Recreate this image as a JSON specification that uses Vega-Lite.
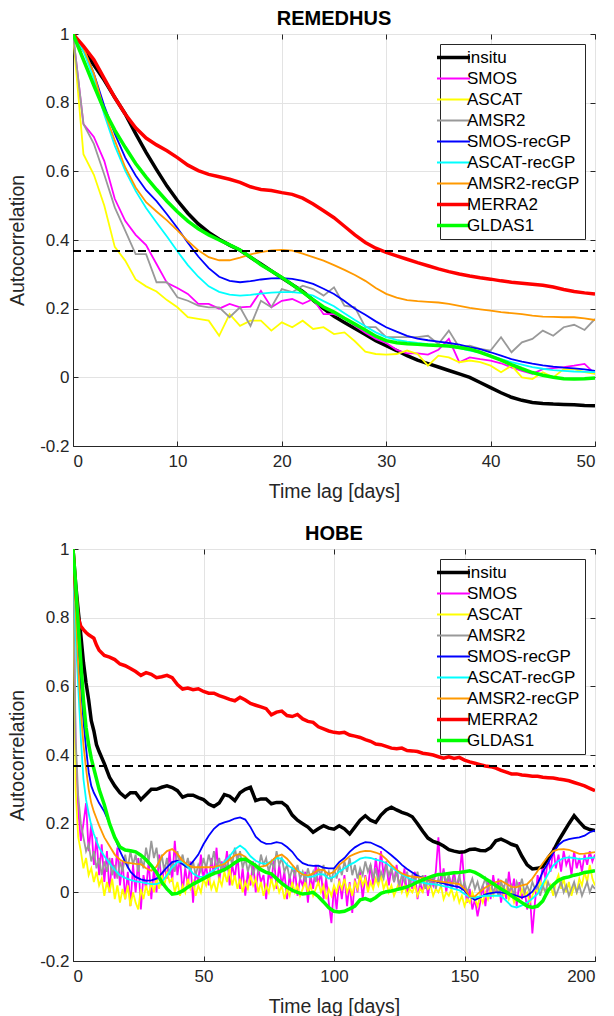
{
"$schema":"https://vega.github.io/schema/vega-lite/v6.json",
"padding":{"left":6,"top":8,"right":0,"bottom":0},
"background":"white",
"bounds":"flush",
"spacing":103,
"config":{
"font":"Liberation Sans",
"view":{"stroke":"#262626","strokeWidth":1},
"axis":{"gridColor":"#e3e3e3","gridWidth":1,"domainColor":"#262626","tickColor":"#262626","labelColor":"#262626","titleColor":"#262626","labelFontSize":17,"titleFontSize":19.5,"titleFontWeight":"normal","labelFont":"Liberation Sans","titleFont":"Liberation Sans"},
"legend":{"title":null,"orient":"top-right","offset":10,"padding":5,"strokeColor":"#262626","fillColor":"#ffffff","labelFontSize":17,"labelColor":"#000000","labelFont":"Liberation Sans","symbolType":"stroke","symbolSize":1089,"rowPadding":3,"labelOffset":5,"symbolStrokeWidth":1.8},
"title":{"font":"Liberation Sans","fontSize":20,"fontWeight":"bold","color":"#000000","offset":-4,"baseline":"alphabetic"}
},
"datasets":{
"rem":[
{"x":0,"insitu":1,"SMOS":1,"ASCAT":1,"AMSR2":1,"SMOS-recGP":1,"ASCAT-recGP":1,"AMSR2-recGP":1,"MERRA2":1,"GLDAS1":1},
{"x":1,"insitu":0.955,"SMOS":0.738,"ASCAT":0.65,"AMSR2":0.738,"SMOS-recGP":0.96,"ASCAT-recGP":0.95,"AMSR2-recGP":0.96,"MERRA2":0.965,"GLDAS1":0.925},
{"x":2,"insitu":0.91,"SMOS":0.7,"ASCAT":0.59,"AMSR2":0.68,"SMOS-recGP":0.885,"ASCAT-recGP":0.87,"AMSR2-recGP":0.885,"MERRA2":0.925,"GLDAS1":0.85},
{"x":3,"insitu":0.865,"SMOS":0.63,"ASCAT":0.5,"AMSR2":0.59,"SMOS-recGP":0.79,"ASCAT-recGP":0.765,"AMSR2-recGP":0.775,"MERRA2":0.87,"GLDAS1":0.778},
{"x":4,"insitu":0.815,"SMOS":0.52,"ASCAT":0.38,"AMSR2":0.495,"SMOS-recGP":0.71,"ASCAT-recGP":0.675,"AMSR2-recGP":0.69,"MERRA2":0.815,"GLDAS1":0.72},
{"x":5,"insitu":0.767,"SMOS":0.456,"ASCAT":0.34,"AMSR2":0.427,"SMOS-recGP":0.64,"ASCAT-recGP":0.602,"AMSR2-recGP":0.612,"MERRA2":0.767,"GLDAS1":0.67},
{"x":6,"insitu":0.71,"SMOS":0.415,"ASCAT":0.285,"AMSR2":0.359,"SMOS-recGP":0.588,"ASCAT-recGP":0.543,"AMSR2-recGP":0.553,"MERRA2":0.727,"GLDAS1":0.623},
{"x":7,"insitu":0.655,"SMOS":0.385,"ASCAT":0.265,"AMSR2":0.359,"SMOS-recGP":0.545,"ASCAT-recGP":0.493,"AMSR2-recGP":0.51,"MERRA2":0.697,"GLDAS1":0.583},
{"x":8,"insitu":0.605,"SMOS":0.33,"ASCAT":0.25,"AMSR2":0.277,"SMOS-recGP":0.513,"ASCAT-recGP":0.451,"AMSR2-recGP":0.483,"MERRA2":0.677,"GLDAS1":0.547},
{"x":9,"insitu":0.557,"SMOS":0.275,"ASCAT":0.225,"AMSR2":0.277,"SMOS-recGP":0.475,"ASCAT-recGP":0.41,"AMSR2-recGP":0.457,"MERRA2":0.66,"GLDAS1":0.513},
{"x":10,"insitu":0.515,"SMOS":0.26,"ASCAT":0.204,"AMSR2":0.233,"SMOS-recGP":0.435,"ASCAT-recGP":0.367,"AMSR2-recGP":0.428,"MERRA2":0.64,"GLDAS1":0.482},
{"x":11,"insitu":0.478,"SMOS":0.243,"ASCAT":0.175,"AMSR2":0.223,"SMOS-recGP":0.392,"ASCAT-recGP":0.327,"AMSR2-recGP":0.397,"MERRA2":0.618,"GLDAS1":0.455},
{"x":12,"insitu":0.447,"SMOS":0.214,"ASCAT":0.17,"AMSR2":0.209,"SMOS-recGP":0.352,"ASCAT-recGP":0.293,"AMSR2-recGP":0.37,"MERRA2":0.602,"GLDAS1":0.433},
{"x":13,"insitu":0.422,"SMOS":0.214,"ASCAT":0.165,"AMSR2":0.204,"SMOS-recGP":0.318,"ASCAT-recGP":0.265,"AMSR2-recGP":0.35,"MERRA2":0.591,"GLDAS1":0.415},
{"x":14,"insitu":0.402,"SMOS":0.2,"ASCAT":0.121,"AMSR2":0.204,"SMOS-recGP":0.293,"ASCAT-recGP":0.249,"AMSR2-recGP":0.341,"MERRA2":0.584,"GLDAS1":0.4},
{"x":15,"insitu":0.385,"SMOS":0.214,"ASCAT":0.184,"AMSR2":0.175,"SMOS-recGP":0.281,"ASCAT-recGP":0.241,"AMSR2-recGP":0.341,"MERRA2":0.577,"GLDAS1":0.386},
{"x":16,"insitu":0.37,"SMOS":0.204,"ASCAT":0.15,"AMSR2":0.204,"SMOS-recGP":0.277,"ASCAT-recGP":0.238,"AMSR2-recGP":0.349,"MERRA2":0.568,"GLDAS1":0.371},
{"x":17,"insitu":0.35,"SMOS":0.206,"ASCAT":0.165,"AMSR2":0.15,"SMOS-recGP":0.28,"ASCAT-recGP":0.24,"AMSR2-recGP":0.358,"MERRA2":0.555,"GLDAS1":0.35},
{"x":18,"insitu":0.33,"SMOS":0.252,"ASCAT":0.165,"AMSR2":0.223,"SMOS-recGP":0.285,"ASCAT-recGP":0.244,"AMSR2-recGP":0.365,"MERRA2":0.547,"GLDAS1":0.328},
{"x":19,"insitu":0.31,"SMOS":0.204,"ASCAT":0.136,"AMSR2":0.204,"SMOS-recGP":0.288,"ASCAT-recGP":0.247,"AMSR2-recGP":0.37,"MERRA2":0.544,"GLDAS1":0.31},
{"x":20,"insitu":0.29,"SMOS":0.223,"ASCAT":0.16,"AMSR2":0.257,"SMOS-recGP":0.289,"ASCAT-recGP":0.248,"AMSR2-recGP":0.371,"MERRA2":0.538,"GLDAS1":0.291},
{"x":21,"insitu":0.27,"SMOS":0.228,"ASCAT":0.146,"AMSR2":0.248,"SMOS-recGP":0.287,"ASCAT-recGP":0.248,"AMSR2-recGP":0.369,"MERRA2":0.533,"GLDAS1":0.27},
{"x":22,"insitu":0.25,"SMOS":0.214,"ASCAT":0.165,"AMSR2":0.267,"SMOS-recGP":0.281,"ASCAT-recGP":0.245,"AMSR2-recGP":0.36,"MERRA2":0.522,"GLDAS1":0.248},
{"x":23,"insitu":0.225,"SMOS":0.228,"ASCAT":0.141,"AMSR2":0.257,"SMOS-recGP":0.272,"ASCAT-recGP":0.238,"AMSR2-recGP":0.35,"MERRA2":0.505,"GLDAS1":0.226},
{"x":24,"insitu":0.2,"SMOS":0.184,"ASCAT":0.146,"AMSR2":0.238,"SMOS-recGP":0.258,"ASCAT-recGP":0.222,"AMSR2-recGP":0.34,"MERRA2":0.485,"GLDAS1":0.205},
{"x":25,"insitu":0.178,"SMOS":0.184,"ASCAT":0.126,"AMSR2":0.262,"SMOS-recGP":0.243,"ASCAT-recGP":0.207,"AMSR2-recGP":0.327,"MERRA2":0.465,"GLDAS1":0.19},
{"x":26,"insitu":0.16,"SMOS":0.172,"ASCAT":0.131,"AMSR2":0.209,"SMOS-recGP":0.222,"ASCAT-recGP":0.187,"AMSR2-recGP":0.313,"MERRA2":0.44,"GLDAS1":0.172},
{"x":27,"insitu":0.142,"SMOS":0.15,"ASCAT":0.105,"AMSR2":0.204,"SMOS-recGP":0.2,"ASCAT-recGP":0.167,"AMSR2-recGP":0.298,"MERRA2":0.415,"GLDAS1":0.155},
{"x":28,"insitu":0.125,"SMOS":0.13,"ASCAT":0.075,"AMSR2":0.146,"SMOS-recGP":0.182,"ASCAT-recGP":0.149,"AMSR2-recGP":0.281,"MERRA2":0.393,"GLDAS1":0.138},
{"x":29,"insitu":0.107,"SMOS":0.112,"ASCAT":0.068,"AMSR2":0.146,"SMOS-recGP":0.163,"ASCAT-recGP":0.131,"AMSR2-recGP":0.26,"MERRA2":0.376,"GLDAS1":0.12},
{"x":30,"insitu":0.092,"SMOS":0.1,"ASCAT":0.066,"AMSR2":0.117,"SMOS-recGP":0.146,"ASCAT-recGP":0.117,"AMSR2-recGP":0.243,"MERRA2":0.364,"GLDAS1":0.107},
{"x":31,"insitu":0.078,"SMOS":0.08,"ASCAT":0.068,"AMSR2":0.117,"SMOS-recGP":0.133,"ASCAT-recGP":0.109,"AMSR2-recGP":0.232,"MERRA2":0.354,"GLDAS1":0.101},
{"x":32,"insitu":0.063,"SMOS":0.07,"ASCAT":0.078,"AMSR2":0.117,"SMOS-recGP":0.121,"ASCAT-recGP":0.104,"AMSR2-recGP":0.225,"MERRA2":0.344,"GLDAS1":0.098},
{"x":33,"insitu":0.05,"SMOS":0.07,"ASCAT":0.068,"AMSR2":0.117,"SMOS-recGP":0.113,"ASCAT-recGP":0.1,"AMSR2-recGP":0.222,"MERRA2":0.334,"GLDAS1":0.096},
{"x":34,"insitu":0.04,"SMOS":0.066,"ASCAT":0.034,"AMSR2":0.121,"SMOS-recGP":0.108,"ASCAT-recGP":0.097,"AMSR2-recGP":0.22,"MERRA2":0.325,"GLDAS1":0.094},
{"x":35,"insitu":0.03,"SMOS":0.08,"ASCAT":0.063,"AMSR2":0.097,"SMOS-recGP":0.104,"ASCAT-recGP":0.094,"AMSR2-recGP":0.218,"MERRA2":0.316,"GLDAS1":0.093},
{"x":36,"insitu":0.02,"SMOS":0.112,"ASCAT":0.058,"AMSR2":0.136,"SMOS-recGP":0.1,"ASCAT-recGP":0.09,"AMSR2-recGP":0.214,"MERRA2":0.308,"GLDAS1":0.091},
{"x":37,"insitu":0.01,"SMOS":0.044,"ASCAT":0.044,"AMSR2":0.087,"SMOS-recGP":0.095,"ASCAT-recGP":0.085,"AMSR2-recGP":0.208,"MERRA2":0.301,"GLDAS1":0.087},
{"x":38,"insitu":0,"SMOS":0.058,"ASCAT":0.049,"AMSR2":0.092,"SMOS-recGP":0.088,"ASCAT-recGP":0.078,"AMSR2-recGP":0.202,"MERRA2":0.295,"GLDAS1":0.082},
{"x":39,"insitu":-0.015,"SMOS":0.053,"ASCAT":0.044,"AMSR2":0.083,"SMOS-recGP":0.082,"ASCAT-recGP":0.072,"AMSR2-recGP":0.198,"MERRA2":0.29,"GLDAS1":0.073},
{"x":40,"insitu":-0.03,"SMOS":0.049,"ASCAT":0.034,"AMSR2":0.078,"SMOS-recGP":0.073,"ASCAT-recGP":0.063,"AMSR2-recGP":0.194,"MERRA2":0.286,"GLDAS1":0.062},
{"x":41,"insitu":-0.045,"SMOS":0.041,"ASCAT":0.015,"AMSR2":0.117,"SMOS-recGP":0.063,"ASCAT-recGP":0.053,"AMSR2-recGP":0.19,"MERRA2":0.281,"GLDAS1":0.05},
{"x":42,"insitu":-0.058,"SMOS":0.029,"ASCAT":0.034,"AMSR2":0.073,"SMOS-recGP":0.053,"ASCAT-recGP":0.044,"AMSR2-recGP":0.187,"MERRA2":0.277,"GLDAS1":0.037},
{"x":43,"insitu":-0.067,"SMOS":0.019,"ASCAT":0,"AMSR2":0.102,"SMOS-recGP":0.046,"ASCAT-recGP":0.037,"AMSR2-recGP":0.184,"MERRA2":0.274,"GLDAS1":0.025},
{"x":44,"insitu":-0.073,"SMOS":0.01,"ASCAT":-0.005,"AMSR2":0.112,"SMOS-recGP":0.04,"ASCAT-recGP":0.03,"AMSR2-recGP":0.18,"MERRA2":0.271,"GLDAS1":0.014},
{"x":45,"insitu":-0.076,"SMOS":0.024,"ASCAT":0.015,"AMSR2":0.136,"SMOS-recGP":0.035,"ASCAT-recGP":0.025,"AMSR2-recGP":0.177,"MERRA2":0.268,"GLDAS1":0.006},
{"x":46,"insitu":-0.078,"SMOS":0.027,"ASCAT":0,"AMSR2":0.121,"SMOS-recGP":0.031,"ASCAT-recGP":0.021,"AMSR2-recGP":0.176,"MERRA2":0.263,"GLDAS1":0},
{"x":47,"insitu":-0.079,"SMOS":0.03,"ASCAT":0.024,"AMSR2":0.146,"SMOS-recGP":0.028,"ASCAT-recGP":0.019,"AMSR2-recGP":0.175,"MERRA2":0.256,"GLDAS1":-0.004},
{"x":48,"insitu":-0.08,"SMOS":0.034,"ASCAT":0.024,"AMSR2":0.153,"SMOS-recGP":0.026,"ASCAT-recGP":0.017,"AMSR2-recGP":0.175,"MERRA2":0.25,"GLDAS1":-0.005},
{"x":49,"insitu":-0.082,"SMOS":0.039,"ASCAT":0.015,"AMSR2":0.138,"SMOS-recGP":0.023,"ASCAT-recGP":0.016,"AMSR2-recGP":0.172,"MERRA2":0.246,"GLDAS1":-0.004},
{"x":50,"insitu":-0.083,"SMOS":0.01,"ASCAT":0.01,"AMSR2":0.17,"SMOS-recGP":0.019,"ASCAT-recGP":0.015,"AMSR2-recGP":0.167,"MERRA2":0.243,"GLDAS1":-0.002}
],
"hobe_s":[
{"x":0,"insitu":1,"SMOS-recGP":1,"ASCAT-recGP":1,"AMSR2-recGP":1,"MERRA2":1,"GLDAS1":1},
{"x":1,"insitu":0.9,"SMOS-recGP":0.85,"ASCAT-recGP":0.75,"AMSR2-recGP":0.82,"MERRA2":0.88,"GLDAS1":0.9},
{"x":2,"insitu":0.82,"SMOS-recGP":0.72,"ASCAT-recGP":0.6,"AMSR2-recGP":0.66,"MERRA2":0.8,"GLDAS1":0.78},
{"x":3,"insitu":0.75,"SMOS-recGP":0.6,"ASCAT-recGP":0.45,"AMSR2-recGP":0.53,"MERRA2":0.775,"GLDAS1":0.67},
{"x":4,"insitu":0.67,"SMOS-recGP":0.5,"ASCAT-recGP":0.33,"AMSR2-recGP":0.43,"MERRA2":0.765,"GLDAS1":0.56},
{"x":5,"insitu":0.61,"SMOS-recGP":0.42,"ASCAT-recGP":0.27,"AMSR2-recGP":0.36,"MERRA2":0.757,"GLDAS1":0.48},
{"x":6,"insitu":0.56,"SMOS-recGP":0.35,"ASCAT-recGP":0.23,"AMSR2-recGP":0.3,"MERRA2":0.75,"GLDAS1":0.43},
{"x":7,"insitu":0.5,"SMOS-recGP":0.31,"ASCAT-recGP":0.195,"AMSR2-recGP":0.26,"MERRA2":0.745,"GLDAS1":0.39},
{"x":8,"insitu":0.47,"SMOS-recGP":0.29,"ASCAT-recGP":0.17,"AMSR2-recGP":0.235,"MERRA2":0.74,"GLDAS1":0.36},
{"x":9,"insitu":0.43,"SMOS-recGP":0.275,"ASCAT-recGP":0.15,"AMSR2-recGP":0.215,"MERRA2":0.72,"GLDAS1":0.33},
{"x":10,"insitu":0.41,"SMOS-recGP":0.26,"ASCAT-recGP":0.13,"AMSR2-recGP":0.195,"MERRA2":0.705,"GLDAS1":0.3},
{"x":12,"insitu":0.375,"SMOS-recGP":0.235,"ASCAT-recGP":0.105,"AMSR2-recGP":0.16,"MERRA2":0.69,"GLDAS1":0.255},
{"x":14,"insitu":0.335,"SMOS-recGP":0.2,"ASCAT-recGP":0.085,"AMSR2-recGP":0.135,"MERRA2":0.685,"GLDAS1":0.2},
{"x":16,"insitu":0.31,"SMOS-recGP":0.16,"ASCAT-recGP":0.065,"AMSR2-recGP":0.11,"MERRA2":0.678,"GLDAS1":0.16},
{"x":18,"insitu":0.29,"SMOS-recGP":0.12,"ASCAT-recGP":0.05,"AMSR2-recGP":0.095,"MERRA2":0.665,"GLDAS1":0.132},
{"x":20,"insitu":0.277,"SMOS-recGP":0.088,"ASCAT-recGP":0.042,"AMSR2-recGP":0.087,"MERRA2":0.66,"GLDAS1":0.123},
{"x":22,"insitu":0.29,"SMOS-recGP":0.06,"ASCAT-recGP":0.036,"AMSR2-recGP":0.085,"MERRA2":0.652,"GLDAS1":0.121},
{"x":24,"insitu":0.29,"SMOS-recGP":0.045,"ASCAT-recGP":0.032,"AMSR2-recGP":0.083,"MERRA2":0.643,"GLDAS1":0.118},
{"x":26,"insitu":0.27,"SMOS-recGP":0.038,"ASCAT-recGP":0.03,"AMSR2-recGP":0.082,"MERRA2":0.632,"GLDAS1":0.108},
{"x":28,"insitu":0.285,"SMOS-recGP":0.034,"ASCAT-recGP":0.027,"AMSR2-recGP":0.07,"MERRA2":0.64,"GLDAS1":0.095},
{"x":30,"insitu":0.3,"SMOS-recGP":0.035,"ASCAT-recGP":0.024,"AMSR2-recGP":0.063,"MERRA2":0.635,"GLDAS1":0.078},
{"x":32,"insitu":0.3,"SMOS-recGP":0.04,"ASCAT-recGP":0.024,"AMSR2-recGP":0.075,"MERRA2":0.625,"GLDAS1":0.058},
{"x":34,"insitu":0.306,"SMOS-recGP":0.055,"ASCAT-recGP":0.03,"AMSR2-recGP":0.105,"MERRA2":0.628,"GLDAS1":0.03},
{"x":36,"insitu":0.31,"SMOS-recGP":0.073,"ASCAT-recGP":0.05,"AMSR2-recGP":0.12,"MERRA2":0.632,"GLDAS1":0.01},
{"x":38,"insitu":0.305,"SMOS-recGP":0.088,"ASCAT-recGP":0.073,"AMSR2-recGP":0.126,"MERRA2":0.625,"GLDAS1":-0.005},
{"x":40,"insitu":0.296,"SMOS-recGP":0.092,"ASCAT-recGP":0.088,"AMSR2-recGP":0.112,"MERRA2":0.605,"GLDAS1":-0.003},
{"x":42,"insitu":0.277,"SMOS-recGP":0.082,"ASCAT-recGP":0.09,"AMSR2-recGP":0.092,"MERRA2":0.592,"GLDAS1":0.004},
{"x":44,"insitu":0.283,"SMOS-recGP":0.072,"ASCAT-recGP":0.075,"AMSR2-recGP":0.08,"MERRA2":0.595,"GLDAS1":0.015},
{"x":46,"insitu":0.283,"SMOS-recGP":0.09,"ASCAT-recGP":0.055,"AMSR2-recGP":0.073,"MERRA2":0.59,"GLDAS1":0.024},
{"x":48,"insitu":0.276,"SMOS-recGP":0.11,"ASCAT-recGP":0.046,"AMSR2-recGP":0.073,"MERRA2":0.593,"GLDAS1":0.032},
{"x":50,"insitu":0.27,"SMOS-recGP":0.14,"ASCAT-recGP":0.045,"AMSR2-recGP":0.073,"MERRA2":0.585,"GLDAS1":0.04},
{"x":52,"insitu":0.257,"SMOS-recGP":0.165,"ASCAT-recGP":0.055,"AMSR2-recGP":0.073,"MERRA2":0.58,"GLDAS1":0.048},
{"x":54,"insitu":0.25,"SMOS-recGP":0.185,"ASCAT-recGP":0.065,"AMSR2-recGP":0.074,"MERRA2":0.58,"GLDAS1":0.055},
{"x":56,"insitu":0.26,"SMOS-recGP":0.198,"ASCAT-recGP":0.075,"AMSR2-recGP":0.078,"MERRA2":0.573,"GLDAS1":0.06},
{"x":58,"insitu":0.285,"SMOS-recGP":0.204,"ASCAT-recGP":0.088,"AMSR2-recGP":0.083,"MERRA2":0.568,"GLDAS1":0.066},
{"x":60,"insitu":0.28,"SMOS-recGP":0.208,"ASCAT-recGP":0.105,"AMSR2-recGP":0.095,"MERRA2":0.562,"GLDAS1":0.075},
{"x":62,"insitu":0.267,"SMOS-recGP":0.215,"ASCAT-recGP":0.125,"AMSR2-recGP":0.108,"MERRA2":0.558,"GLDAS1":0.086},
{"x":64,"insitu":0.29,"SMOS-recGP":0.218,"ASCAT-recGP":0.136,"AMSR2-recGP":0.112,"MERRA2":0.568,"GLDAS1":0.095},
{"x":66,"insitu":0.3,"SMOS-recGP":0.212,"ASCAT-recGP":0.125,"AMSR2-recGP":0.104,"MERRA2":0.56,"GLDAS1":0.097},
{"x":68,"insitu":0.306,"SMOS-recGP":0.19,"ASCAT-recGP":0.105,"AMSR2-recGP":0.088,"MERRA2":0.55,"GLDAS1":0.088},
{"x":70,"insitu":0.267,"SMOS-recGP":0.162,"ASCAT-recGP":0.092,"AMSR2-recGP":0.074,"MERRA2":0.545,"GLDAS1":0.078},
{"x":72,"insitu":0.272,"SMOS-recGP":0.148,"ASCAT-recGP":0.085,"AMSR2-recGP":0.075,"MERRA2":0.54,"GLDAS1":0.066},
{"x":74,"insitu":0.272,"SMOS-recGP":0.141,"ASCAT-recGP":0.083,"AMSR2-recGP":0.078,"MERRA2":0.535,"GLDAS1":0.058},
{"x":76,"insitu":0.258,"SMOS-recGP":0.142,"ASCAT-recGP":0.09,"AMSR2-recGP":0.09,"MERRA2":0.517,"GLDAS1":0.054},
{"x":78,"insitu":0.262,"SMOS-recGP":0.146,"ASCAT-recGP":0.1,"AMSR2-recGP":0.105,"MERRA2":0.525,"GLDAS1":0.04},
{"x":80,"insitu":0.262,"SMOS-recGP":0.143,"ASCAT-recGP":0.098,"AMSR2-recGP":0.11,"MERRA2":0.528,"GLDAS1":0.026},
{"x":82,"insitu":0.25,"SMOS-recGP":0.132,"ASCAT-recGP":0.08,"AMSR2-recGP":0.098,"MERRA2":0.515,"GLDAS1":0.015},
{"x":84,"insitu":0.225,"SMOS-recGP":0.118,"ASCAT-recGP":0.07,"AMSR2-recGP":0.08,"MERRA2":0.512,"GLDAS1":0.006},
{"x":86,"insitu":0.21,"SMOS-recGP":0.098,"ASCAT-recGP":0.064,"AMSR2-recGP":0.062,"MERRA2":0.518,"GLDAS1":0},
{"x":88,"insitu":0.2,"SMOS-recGP":0.085,"ASCAT-recGP":0.055,"AMSR2-recGP":0.052,"MERRA2":0.505,"GLDAS1":-0.005},
{"x":90,"insitu":0.19,"SMOS-recGP":0.079,"ASCAT-recGP":0.045,"AMSR2-recGP":0.049,"MERRA2":0.498,"GLDAS1":-0.003},
{"x":92,"insitu":0.175,"SMOS-recGP":0.077,"ASCAT-recGP":0.046,"AMSR2-recGP":0.055,"MERRA2":0.495,"GLDAS1":0},
{"x":94,"insitu":0.185,"SMOS-recGP":0.078,"ASCAT-recGP":0.053,"AMSR2-recGP":0.066,"MERRA2":0.482,"GLDAS1":-0.012},
{"x":96,"insitu":0.194,"SMOS-recGP":0.072,"ASCAT-recGP":0.052,"AMSR2-recGP":0.065,"MERRA2":0.476,"GLDAS1":-0.028},
{"x":98,"insitu":0.187,"SMOS-recGP":0.07,"ASCAT-recGP":0.04,"AMSR2-recGP":0.053,"MERRA2":0.47,"GLDAS1":-0.045},
{"x":100,"insitu":0.184,"SMOS-recGP":0.07,"ASCAT-recGP":0.045,"AMSR2-recGP":0.06,"MERRA2":0.466,"GLDAS1":-0.055},
{"x":102,"insitu":0.194,"SMOS-recGP":0.088,"ASCAT-recGP":0.06,"AMSR2-recGP":0.08,"MERRA2":0.464,"GLDAS1":-0.057},
{"x":104,"insitu":0.185,"SMOS-recGP":0.1,"ASCAT-recGP":0.07,"AMSR2-recGP":0.092,"MERRA2":0.466,"GLDAS1":-0.055},
{"x":106,"insitu":0.17,"SMOS-recGP":0.118,"ASCAT-recGP":0.08,"AMSR2-recGP":0.105,"MERRA2":0.458,"GLDAS1":-0.048},
{"x":108,"insitu":0.19,"SMOS-recGP":0.131,"ASCAT-recGP":0.088,"AMSR2-recGP":0.112,"MERRA2":0.455,"GLDAS1":-0.04},
{"x":110,"insitu":0.21,"SMOS-recGP":0.14,"ASCAT-recGP":0.098,"AMSR2-recGP":0.118,"MERRA2":0.451,"GLDAS1":-0.022},
{"x":112,"insitu":0.223,"SMOS-recGP":0.146,"ASCAT-recGP":0.102,"AMSR2-recGP":0.121,"MERRA2":0.445,"GLDAS1":-0.018},
{"x":114,"insitu":0.21,"SMOS-recGP":0.145,"ASCAT-recGP":0.1,"AMSR2-recGP":0.12,"MERRA2":0.44,"GLDAS1":-0.024},
{"x":116,"insitu":0.204,"SMOS-recGP":0.138,"ASCAT-recGP":0.095,"AMSR2-recGP":0.116,"MERRA2":0.432,"GLDAS1":-0.015},
{"x":118,"insitu":0.225,"SMOS-recGP":0.131,"ASCAT-recGP":0.092,"AMSR2-recGP":0.11,"MERRA2":0.43,"GLDAS1":-0.003},
{"x":120,"insitu":0.24,"SMOS-recGP":0.12,"ASCAT-recGP":0.085,"AMSR2-recGP":0.097,"MERRA2":0.425,"GLDAS1":0.002},
{"x":122,"insitu":0.248,"SMOS-recGP":0.108,"ASCAT-recGP":0.073,"AMSR2-recGP":0.08,"MERRA2":0.42,"GLDAS1":0.004},
{"x":124,"insitu":0.24,"SMOS-recGP":0.095,"ASCAT-recGP":0.062,"AMSR2-recGP":0.066,"MERRA2":0.418,"GLDAS1":0.008},
{"x":126,"insitu":0.233,"SMOS-recGP":0.08,"ASCAT-recGP":0.052,"AMSR2-recGP":0.055,"MERRA2":0.42,"GLDAS1":0.012},
{"x":128,"insitu":0.228,"SMOS-recGP":0.068,"ASCAT-recGP":0.044,"AMSR2-recGP":0.049,"MERRA2":0.413,"GLDAS1":0.016},
{"x":130,"insitu":0.22,"SMOS-recGP":0.058,"ASCAT-recGP":0.036,"AMSR2-recGP":0.046,"MERRA2":0.412,"GLDAS1":0.022},
{"x":132,"insitu":0.2,"SMOS-recGP":0.048,"ASCAT-recGP":0.031,"AMSR2-recGP":0.044,"MERRA2":0.41,"GLDAS1":0.03},
{"x":134,"insitu":0.178,"SMOS-recGP":0.042,"ASCAT-recGP":0.028,"AMSR2-recGP":0.042,"MERRA2":0.405,"GLDAS1":0.036},
{"x":136,"insitu":0.158,"SMOS-recGP":0.038,"ASCAT-recGP":0.025,"AMSR2-recGP":0.038,"MERRA2":0.403,"GLDAS1":0.042},
{"x":138,"insitu":0.148,"SMOS-recGP":0.034,"ASCAT-recGP":0.024,"AMSR2-recGP":0.034,"MERRA2":0.4,"GLDAS1":0.048},
{"x":140,"insitu":0.143,"SMOS-recGP":0.03,"ASCAT-recGP":0.022,"AMSR2-recGP":0.032,"MERRA2":0.395,"GLDAS1":0.052},
{"x":142,"insitu":0.135,"SMOS-recGP":0.026,"ASCAT-recGP":0.018,"AMSR2-recGP":0.03,"MERRA2":0.391,"GLDAS1":0.053},
{"x":144,"insitu":0.124,"SMOS-recGP":0.022,"ASCAT-recGP":0.015,"AMSR2-recGP":0.028,"MERRA2":0.395,"GLDAS1":0.055},
{"x":146,"insitu":0.12,"SMOS-recGP":0.018,"ASCAT-recGP":0.01,"AMSR2-recGP":0.026,"MERRA2":0.39,"GLDAS1":0.057},
{"x":148,"insitu":0.117,"SMOS-recGP":0.015,"ASCAT-recGP":0.006,"AMSR2-recGP":0.024,"MERRA2":0.393,"GLDAS1":0.058},
{"x":150,"insitu":0.118,"SMOS-recGP":0.005,"ASCAT-recGP":-0.005,"AMSR2-recGP":0.01,"MERRA2":0.385,"GLDAS1":0.06},
{"x":152,"insitu":0.125,"SMOS-recGP":-0.012,"ASCAT-recGP":-0.014,"AMSR2-recGP":-0.012,"MERRA2":0.38,"GLDAS1":0.063},
{"x":154,"insitu":0.126,"SMOS-recGP":-0.022,"ASCAT-recGP":-0.015,"AMSR2-recGP":-0.012,"MERRA2":0.376,"GLDAS1":0.058},
{"x":156,"insitu":0.122,"SMOS-recGP":-0.015,"ASCAT-recGP":-0.012,"AMSR2-recGP":0.002,"MERRA2":0.372,"GLDAS1":0.05},
{"x":158,"insitu":0.121,"SMOS-recGP":-0.006,"ASCAT-recGP":-0.01,"AMSR2-recGP":0.014,"MERRA2":0.368,"GLDAS1":0.04},
{"x":160,"insitu":0.13,"SMOS-recGP":-0.002,"ASCAT-recGP":-0.01,"AMSR2-recGP":0.022,"MERRA2":0.366,"GLDAS1":0.03},
{"x":162,"insitu":0.15,"SMOS-recGP":0,"ASCAT-recGP":-0.01,"AMSR2-recGP":0.03,"MERRA2":0.362,"GLDAS1":0.02},
{"x":164,"insitu":0.155,"SMOS-recGP":0,"ASCAT-recGP":-0.01,"AMSR2-recGP":0.034,"MERRA2":0.355,"GLDAS1":0.01},
{"x":166,"insitu":0.148,"SMOS-recGP":-0.003,"ASCAT-recGP":-0.025,"AMSR2-recGP":0.025,"MERRA2":0.35,"GLDAS1":0.001},
{"x":168,"insitu":0.14,"SMOS-recGP":-0.005,"ASCAT-recGP":-0.04,"AMSR2-recGP":0.016,"MERRA2":0.345,"GLDAS1":-0.01},
{"x":170,"insitu":0.135,"SMOS-recGP":-0.01,"ASCAT-recGP":-0.044,"AMSR2-recGP":0.015,"MERRA2":0.345,"GLDAS1":-0.02},
{"x":172,"insitu":0.105,"SMOS-recGP":-0.015,"ASCAT-recGP":-0.038,"AMSR2-recGP":0.02,"MERRA2":0.342,"GLDAS1":-0.03},
{"x":174,"insitu":0.08,"SMOS-recGP":-0.01,"ASCAT-recGP":-0.03,"AMSR2-recGP":0.024,"MERRA2":0.34,"GLDAS1":-0.04},
{"x":176,"insitu":0.068,"SMOS-recGP":0.002,"ASCAT-recGP":-0.018,"AMSR2-recGP":0.04,"MERRA2":0.338,"GLDAS1":-0.044},
{"x":178,"insitu":0.07,"SMOS-recGP":0.025,"ASCAT-recGP":-0.005,"AMSR2-recGP":0.062,"MERRA2":0.338,"GLDAS1":-0.04},
{"x":180,"insitu":0.075,"SMOS-recGP":0.06,"ASCAT-recGP":0.025,"AMSR2-recGP":0.085,"MERRA2":0.335,"GLDAS1":-0.025},
{"x":182,"insitu":0.1,"SMOS-recGP":0.085,"ASCAT-recGP":0.053,"AMSR2-recGP":0.105,"MERRA2":0.334,"GLDAS1":0.005},
{"x":184,"insitu":0.12,"SMOS-recGP":0.115,"ASCAT-recGP":0.078,"AMSR2-recGP":0.12,"MERRA2":0.333,"GLDAS1":0.022},
{"x":186,"insitu":0.15,"SMOS-recGP":0.138,"ASCAT-recGP":0.092,"AMSR2-recGP":0.125,"MERRA2":0.33,"GLDAS1":0.035},
{"x":188,"insitu":0.175,"SMOS-recGP":0.15,"ASCAT-recGP":0.1,"AMSR2-recGP":0.126,"MERRA2":0.328,"GLDAS1":0.042},
{"x":190,"insitu":0.2,"SMOS-recGP":0.155,"ASCAT-recGP":0.102,"AMSR2-recGP":0.124,"MERRA2":0.325,"GLDAS1":0.045},
{"x":192,"insitu":0.223,"SMOS-recGP":0.158,"ASCAT-recGP":0.1,"AMSR2-recGP":0.118,"MERRA2":0.32,"GLDAS1":0.05},
{"x":194,"insitu":0.205,"SMOS-recGP":0.16,"ASCAT-recGP":0.097,"AMSR2-recGP":0.112,"MERRA2":0.315,"GLDAS1":0.053},
{"x":196,"insitu":0.189,"SMOS-recGP":0.165,"ASCAT-recGP":0.098,"AMSR2-recGP":0.113,"MERRA2":0.31,"GLDAS1":0.058},
{"x":198,"insitu":0.183,"SMOS-recGP":0.175,"ASCAT-recGP":0.1,"AMSR2-recGP":0.115,"MERRA2":0.303,"GLDAS1":0.06},
{"x":200,"insitu":0.18,"SMOS-recGP":0.18,"ASCAT-recGP":0.102,"AMSR2-recGP":0.117,"MERRA2":0.296,"GLDAS1":0.063}
],
"hobe_n":[
{"x":0,"SMOS":1,"ASCAT":1,"AMSR2":1},{"x":1,"SMOS":0.42,"ASCAT":0.3,"AMSR2":0.45},{"x":2,"SMOS":0.24,"ASCAT":0.16,"AMSR2":0.28},{"x":3,"SMOS":0.15,"ASCAT":0.12,"AMSR2":0.2},{"x":4,"SMOS":0.2,"ASCAT":0.07,"AMSR2":0.16},
{"x":5,"SMOS":0.26,"ASCAT":0.1,"AMSR2":0.12},{"x":6,"SMOS":0.12,"ASCAT":0.05,"AMSR2":0.14},{"x":7,"SMOS":0.2,"ASCAT":0.07,"AMSR2":0.09},{"x":8,"SMOS":0.08,"ASCAT":0.03,"AMSR2":0.12},{"x":9,"SMOS":0.16,"ASCAT":0.06,"AMSR2":0.07},
{"x":10,"SMOS":0.05,"ASCAT":0.02,"AMSR2":0.1},{"x":11,"SMOS":0.14,"ASCAT":0.04,"AMSR2":0.05},{"x":12,"SMOS":0.03,"ASCAT":-0.01,"AMSR2":0.09},{"x":13,"SMOS":0.12,"ASCAT":0.03,"AMSR2":0.06},{"x":14,"SMOS":0,"ASCAT":0,"AMSR2":0.1},
{"x":15,"SMOS":0.1,"ASCAT":0.04,"AMSR2":0.05},{"x":16,"SMOS":0.04,"ASCAT":-0.02,"AMSR2":0.08},{"x":17,"SMOS":0.13,"ASCAT":0.02,"AMSR2":0.04},{"x":18,"SMOS":0.02,"ASCAT":-0.03,"AMSR2":0.09},{"x":19,"SMOS":0.09,"ASCAT":0.01,"AMSR2":0.06},
{"x":20,"SMOS":-0.02,"ASCAT":-0.02,"AMSR2":0.11},{"x":21,"SMOS":0.06,"ASCAT":0.02,"AMSR2":0.07},{"x":22,"SMOS":-0.04,"ASCAT":-0.04,"AMSR2":0.12},{"x":23,"SMOS":0.08,"ASCAT":0,"AMSR2":0.08},{"x":24,"SMOS":0,"ASCAT":-0.03,"AMSR2":0.11},
{"x":25,"SMOS":0.1,"ASCAT":-0.05,"AMSR2":0.06},{"x":26,"SMOS":-0.05,"ASCAT":0.01,"AMSR2":0.1},{"x":27,"SMOS":0.05,"ASCAT":-0.02,"AMSR2":0.07},{"x":28,"SMOS":0.01,"ASCAT":0.02,"AMSR2":0.13},{"x":29,"SMOS":0.09,"ASCAT":-0.01,"AMSR2":0.09},
{"x":30,"SMOS":-0.02,"ASCAT":0.03,"AMSR2":0.15},{"x":31,"SMOS":0.07,"ASCAT":0,"AMSR2":0.1},{"x":32,"SMOS":0,"ASCAT":0.04,"AMSR2":0.13},{"x":33,"SMOS":0.11,"ASCAT":0.01,"AMSR2":0.07},{"x":34,"SMOS":0.02,"ASCAT":0.05,"AMSR2":0.11},
{"x":35,"SMOS":0.08,"ASCAT":0.02,"AMSR2":0.06},{"x":36,"SMOS":0.04,"ASCAT":0.06,"AMSR2":0.1},{"x":37,"SMOS":0.12,"ASCAT":0.03,"AMSR2":0.05},{"x":38,"SMOS":0.03,"ASCAT":0.04,"AMSR2":0.09},{"x":39,"SMOS":0.15,"ASCAT":0,"AMSR2":0.06},
{"x":40,"SMOS":0.05,"ASCAT":0.03,"AMSR2":0.12},{"x":41,"SMOS":0.1,"ASCAT":-0.01,"AMSR2":0.08},{"x":42,"SMOS":0,"ASCAT":0.02,"AMSR2":0.11},{"x":43,"SMOS":0.07,"ASCAT":0,"AMSR2":0.07},{"x":44,"SMOS":0.02,"ASCAT":0.04,"AMSR2":0.1},
{"x":45,"SMOS":0.09,"ASCAT":0.01,"AMSR2":0.06},{"x":46,"SMOS":-0.03,"ASCAT":0.03,"AMSR2":0.09},{"x":47,"SMOS":0.06,"ASCAT":-0.01,"AMSR2":0.05},{"x":48,"SMOS":0.03,"ASCAT":0.02,"AMSR2":0.08},{"x":49,"SMOS":0.11,"ASCAT":0,"AMSR2":0.06},
{"x":50,"SMOS":0.04,"ASCAT":0.04,"AMSR2":0.1},{"x":51,"SMOS":0.08,"ASCAT":0.02,"AMSR2":0.07},{"x":52,"SMOS":0.02,"ASCAT":0.05,"AMSR2":0.11},{"x":53,"SMOS":0.1,"ASCAT":0.01,"AMSR2":0.08},{"x":54,"SMOS":0.05,"ASCAT":0.03,"AMSR2":0.12},
{"x":55,"SMOS":0.13,"ASCAT":0,"AMSR2":0.07},{"x":56,"SMOS":0.03,"ASCAT":0.04,"AMSR2":0.1},{"x":57,"SMOS":0.09,"ASCAT":0.02,"AMSR2":0.06},{"x":58,"SMOS":0.06,"ASCAT":0.06,"AMSR2":0.09},{"x":59,"SMOS":0.12,"ASCAT":0.03,"AMSR2":0.07},
{"x":60,"SMOS":0.02,"ASCAT":0.07,"AMSR2":0.11},{"x":61,"SMOS":0.08,"ASCAT":0.02,"AMSR2":0.08},{"x":62,"SMOS":0.04,"ASCAT":0.05,"AMSR2":0.13},{"x":63,"SMOS":0.11,"ASCAT":0.01,"AMSR2":0.09},{"x":64,"SMOS":0.01,"ASCAT":0.04,"AMSR2":0.12},
{"x":65,"SMOS":0.07,"ASCAT":0,"AMSR2":0.07},{"x":66,"SMOS":-0.01,"ASCAT":0.03,"AMSR2":0.1},{"x":67,"SMOS":0.06,"ASCAT":0.01,"AMSR2":0.06},{"x":68,"SMOS":0.02,"ASCAT":0.05,"AMSR2":0.09},{"x":69,"SMOS":0.09,"ASCAT":0.02,"AMSR2":0.05},
{"x":70,"SMOS":0,"ASCAT":0.04,"AMSR2":0.08},{"x":71,"SMOS":0.07,"ASCAT":0,"AMSR2":0.06},{"x":72,"SMOS":0.03,"ASCAT":0.03,"AMSR2":0.11},{"x":73,"SMOS":0.05,"ASCAT":-0.01,"AMSR2":0.08},{"x":74,"SMOS":-0.02,"ASCAT":0.02,"AMSR2":0.1},
{"x":75,"SMOS":0.06,"ASCAT":0,"AMSR2":0.06},{"x":76,"SMOS":0.03,"ASCAT":0.04,"AMSR2":0.09},{"x":77,"SMOS":0.1,"ASCAT":0.01,"AMSR2":0.07},{"x":78,"SMOS":0.01,"ASCAT":0.03,"AMSR2":0.12},{"x":79,"SMOS":0.08,"ASCAT":0,"AMSR2":0.08},
{"x":80,"SMOS":0.02,"ASCAT":0.02,"AMSR2":0.1},{"x":81,"SMOS":0.06,"ASCAT":-0.02,"AMSR2":0.06},{"x":82,"SMOS":-0.02,"ASCAT":0.01,"AMSR2":0.08},{"x":83,"SMOS":0.05,"ASCAT":-0.01,"AMSR2":0.04},{"x":84,"SMOS":0,"ASCAT":0.03,"AMSR2":0.07},
{"x":85,"SMOS":0.07,"ASCAT":0,"AMSR2":0.05},{"x":86,"SMOS":-0.01,"ASCAT":0.02,"AMSR2":0.08},{"x":87,"SMOS":0.04,"ASCAT":-0.01,"AMSR2":0.04},{"x":88,"SMOS":0.02,"ASCAT":0.01,"AMSR2":0.06},{"x":89,"SMOS":0.06,"ASCAT":0.03,"AMSR2":0.03},
{"x":90,"SMOS":-0.03,"ASCAT":0,"AMSR2":0.07},{"x":91,"SMOS":0.05,"ASCAT":0.02,"AMSR2":0.04},{"x":92,"SMOS":0.01,"ASCAT":-0.01,"AMSR2":0.06},{"x":93,"SMOS":0.08,"ASCAT":0.01,"AMSR2":0.03},{"x":94,"SMOS":0.02,"ASCAT":0.03,"AMSR2":0.07},
{"x":95,"SMOS":0.06,"ASCAT":0,"AMSR2":0.05},{"x":96,"SMOS":-0.02,"ASCAT":0.02,"AMSR2":0.08},{"x":97,"SMOS":0.04,"ASCAT":-0.02,"AMSR2":0.04},{"x":98,"SMOS":-0.03,"ASCAT":0.01,"AMSR2":0.06},{"x":99,"SMOS":-0.09,"ASCAT":-0.01,"AMSR2":0.03},
{"x":100,"SMOS":0.02,"ASCAT":0.02,"AMSR2":0.07},{"x":101,"SMOS":-0.05,"ASCAT":0,"AMSR2":0.04},{"x":102,"SMOS":0.04,"ASCAT":0.03,"AMSR2":0.08},{"x":103,"SMOS":-0.02,"ASCAT":0.01,"AMSR2":0.05},{"x":104,"SMOS":0.05,"ASCAT":0.04,"AMSR2":0.09},
{"x":105,"SMOS":-0.04,"ASCAT":0,"AMSR2":0.06},{"x":106,"SMOS":0.03,"ASCAT":0.02,"AMSR2":0.1},{"x":107,"SMOS":-0.06,"ASCAT":-0.01,"AMSR2":0.05},{"x":108,"SMOS":0.04,"ASCAT":0.03,"AMSR2":0.08},{"x":109,"SMOS":0,"ASCAT":0.01,"AMSR2":0.04},
{"x":110,"SMOS":0.06,"ASCAT":0.05,"AMSR2":0.07},{"x":111,"SMOS":-0.02,"ASCAT":0.02,"AMSR2":0.05},{"x":112,"SMOS":0.05,"ASCAT":0.04,"AMSR2":0.09},{"x":113,"SMOS":0.01,"ASCAT":0,"AMSR2":0.06},{"x":114,"SMOS":0.08,"ASCAT":0.03,"AMSR2":0.08},
{"x":115,"SMOS":0.02,"ASCAT":0.01,"AMSR2":0.04},{"x":116,"SMOS":0.1,"ASCAT":0.04,"AMSR2":0.07},{"x":117,"SMOS":0.04,"ASCAT":0.02,"AMSR2":0.03},{"x":118,"SMOS":0.12,"ASCAT":0.05,"AMSR2":0.06},{"x":119,"SMOS":0.05,"ASCAT":0.01,"AMSR2":0.04},
{"x":120,"SMOS":0.09,"ASCAT":0.03,"AMSR2":0.08},{"x":121,"SMOS":0.02,"ASCAT":0,"AMSR2":0.05},{"x":122,"SMOS":0.07,"ASCAT":0.02,"AMSR2":0.07},{"x":123,"SMOS":0.03,"ASCAT":-0.01,"AMSR2":0.03},{"x":124,"SMOS":0.08,"ASCAT":0.01,"AMSR2":0.06},
{"x":125,"SMOS":0.01,"ASCAT":0.03,"AMSR2":0.02},{"x":126,"SMOS":0.02,"ASCAT":0,"AMSR2":0.05},{"x":127,"SMOS":0.07,"ASCAT":0.02,"AMSR2":0.03},{"x":128,"SMOS":-0.01,"ASCAT":-0.01,"AMSR2":0.06},{"x":129,"SMOS":0.04,"ASCAT":0.01,"AMSR2":0.02},
{"x":130,"SMOS":0.01,"ASCAT":0,"AMSR2":0.05},{"x":131,"SMOS":0.06,"ASCAT":0.02,"AMSR2":0.03},{"x":132,"SMOS":-0.02,"ASCAT":-0.01,"AMSR2":0.06},{"x":133,"SMOS":0.03,"ASCAT":0.01,"AMSR2":0.02},{"x":134,"SMOS":0,"ASCAT":0,"AMSR2":0.05},
{"x":135,"SMOS":0.05,"ASCAT":0.03,"AMSR2":0.01},{"x":136,"SMOS":-0.01,"ASCAT":0.01,"AMSR2":0.04},{"x":137,"SMOS":0.04,"ASCAT":0.02,"AMSR2":0.02},{"x":138,"SMOS":0.02,"ASCAT":-0.01,"AMSR2":0.05},{"x":139,"SMOS":0.06,"ASCAT":0.01,"AMSR2":0.01},
{"x":140,"SMOS":0.16,"ASCAT":0,"AMSR2":0.04},{"x":141,"SMOS":0.03,"ASCAT":0.02,"AMSR2":0.02},{"x":142,"SMOS":0.07,"ASCAT":-0.02,"AMSR2":0.06},{"x":143,"SMOS":0,"ASCAT":0,"AMSR2":0.03},{"x":144,"SMOS":0.05,"ASCAT":-0.01,"AMSR2":0.05},
{"x":145,"SMOS":0.02,"ASCAT":0.01,"AMSR2":0.01},{"x":146,"SMOS":0.06,"ASCAT":-0.02,"AMSR2":0.04},{"x":147,"SMOS":0.01,"ASCAT":0,"AMSR2":0.02},{"x":148,"SMOS":0.04,"ASCAT":-0.03,"AMSR2":0.05},{"x":149,"SMOS":0.12,"ASCAT":-0.01,"AMSR2":0.01},
{"x":150,"SMOS":0.02,"ASCAT":-0.04,"AMSR2":0.03},{"x":151,"SMOS":-0.03,"ASCAT":-0.02,"AMSR2":0},{"x":152,"SMOS":0.01,"ASCAT":-0.03,"AMSR2":0.02},{"x":153,"SMOS":-0.05,"ASCAT":0,"AMSR2":0.04},{"x":154,"SMOS":-0.02,"ASCAT":-0.02,"AMSR2":0.01},
{"x":155,"SMOS":-0.07,"ASCAT":-0.04,"AMSR2":0.03},{"x":156,"SMOS":-0.03,"ASCAT":-0.01,"AMSR2":0},{"x":157,"SMOS":0.02,"ASCAT":-0.03,"AMSR2":0.02},{"x":158,"SMOS":-0.04,"ASCAT":0,"AMSR2":0.04},{"x":159,"SMOS":0.03,"ASCAT":-0.02,"AMSR2":0.01},
{"x":160,"SMOS":-0.02,"ASCAT":0.01,"AMSR2":0.03},{"x":161,"SMOS":0.05,"ASCAT":-0.01,"AMSR2":0},{"x":162,"SMOS":0,"ASCAT":0.02,"AMSR2":0.02},{"x":163,"SMOS":0.04,"ASCAT":0,"AMSR2":-0.01},{"x":164,"SMOS":-0.03,"ASCAT":0.03,"AMSR2":0.03},
{"x":165,"SMOS":0.02,"ASCAT":-0.01,"AMSR2":0.01},{"x":166,"SMOS":-0.02,"ASCAT":0.01,"AMSR2":0.04},{"x":167,"SMOS":0.06,"ASCAT":-0.02,"AMSR2":0},{"x":168,"SMOS":0,"ASCAT":0,"AMSR2":0.02},{"x":169,"SMOS":0.04,"ASCAT":-0.03,"AMSR2":-0.01},
{"x":170,"SMOS":-0.04,"ASCAT":-0.01,"AMSR2":0.03},{"x":171,"SMOS":0.03,"ASCAT":-0.02,"AMSR2":0.01},{"x":172,"SMOS":-0.02,"ASCAT":0.01,"AMSR2":0.04},{"x":173,"SMOS":0.01,"ASCAT":-0.01,"AMSR2":0},{"x":174,"SMOS":-0.05,"ASCAT":0,"AMSR2":0.02},
{"x":175,"SMOS":0,"ASCAT":-0.03,"AMSR2":0},{"x":176,"SMOS":-0.12,"ASCAT":-0.01,"AMSR2":0.03},{"x":177,"SMOS":-0.03,"ASCAT":0.01,"AMSR2":0.01},{"x":178,"SMOS":0.05,"ASCAT":0,"AMSR2":0.02},{"x":179,"SMOS":0.02,"ASCAT":0.03,"AMSR2":-0.01},
{"x":180,"SMOS":0.08,"ASCAT":0.01,"AMSR2":0.02},{"x":181,"SMOS":0.04,"ASCAT":0.04,"AMSR2":0},{"x":182,"SMOS":0.1,"ASCAT":0,"AMSR2":0.03},{"x":183,"SMOS":0.06,"ASCAT":0.02,"AMSR2":0.01},{"x":184,"SMOS":0.13,"ASCAT":-0.01,"AMSR2":0.02},
{"x":185,"SMOS":0.07,"ASCAT":0.03,"AMSR2":-0.01},{"x":186,"SMOS":0.11,"ASCAT":0.05,"AMSR2":0.01},{"x":187,"SMOS":0.06,"ASCAT":0.01,"AMSR2":0.03},{"x":188,"SMOS":0.12,"ASCAT":0.04,"AMSR2":0},{"x":189,"SMOS":0.08,"ASCAT":0,"AMSR2":0.02},
{"x":190,"SMOS":0.1,"ASCAT":0.03,"AMSR2":-0.01},{"x":191,"SMOS":0.05,"ASCAT":-0.01,"AMSR2":0.01},{"x":192,"SMOS":0.12,"ASCAT":0.02,"AMSR2":0.03},{"x":193,"SMOS":0.07,"ASCAT":0,"AMSR2":0},{"x":194,"SMOS":0.1,"ASCAT":0.04,"AMSR2":0.02},
{"x":195,"SMOS":0.06,"ASCAT":0.02,"AMSR2":-0.01},{"x":196,"SMOS":0.11,"ASCAT":0.06,"AMSR2":0.01},{"x":197,"SMOS":0.08,"ASCAT":0.03,"AMSR2":0.03},{"x":198,"SMOS":0.12,"ASCAT":0.08,"AMSR2":0},{"x":199,"SMOS":0.09,"ASCAT":0.04,"AMSR2":0.02},
{"x":200,"SMOS":0.11,"ASCAT":0.02,"AMSR2":0.01}
]
},
"vconcat":[
{
"width":522,"height":412,
"title":{"text":"REMEDHUS"},
"layer":[
{
"data":{"name":"rem"},
"transform":[{"fold":["insitu","SMOS","ASCAT","AMSR2","SMOS-recGP","ASCAT-recGP","AMSR2-recGP","MERRA2","GLDAS1"],"as":["s","v"]}],
"mark":{"type":"line","clip":true},
"encoding":{
"x":{"field":"x","type":"quantitative","scale":{"domain":[0,50],"nice":false},"axis":{"orient":"bottom","values":[0,10,20,30,40,50],"format":"d","title":"Time lag [days]","titleX":261,"titleY":51,"titleBaseline":"alphabetic","titleAlign":"center","labelPadding":12,"tickSize":-5,"grid":true}},
"y":{"field":"v","type":"quantitative","scale":{"domain":[-0.2,1],"nice":false},"axis":{"orient":"left","values":[-0.2,0,0.2,0.4,0.6,0.8,1],"format":"~g","labelExpr":"replace(datum.label,'−','-')","title":"Autocorrelation","titleX":-56,"titleY":206,"titleAngle":-90,"titleBaseline":"middle","titleAlign":"center","labelPadding":9,"tickSize":-5,"grid":true}},
"color":{"field":"s","type":"nominal","scale":{"domain":["insitu","SMOS","ASCAT","AMSR2","SMOS-recGP","ASCAT-recGP","AMSR2-recGP","MERRA2","GLDAS1"],"range":["#000000","#ff00ff","#ffff00","#999999","#0000ff","#00ffff","#ff9900","#ff0000","#00ff00"]},"legend":{"encode":{"symbols":{"update":{"strokeWidth":{"signal":"indexof(['insitu','MERRA2','GLDAS1'], datum.value) >= 0 ? 3.5 : 1.8"}}}}}},
"strokeWidth":{"condition":{"test":"datum.s === 'insitu' || datum.s === 'MERRA2' || datum.s === 'GLDAS1'","value":3.5},"value":1.8}
}
},
{
"data":{"values":[{"t":0.368}]},
"mark":{"type":"rule","strokeDash":[8,5],"strokeWidth":2,"color":"#000000"},
"encoding":{
"x":{"datum":0,"type":"quantitative","axis":{"orient":"top","values":[0,10,20,30,40,50],"labels":false,"title":null,"grid":false,"domain":false,"tickSize":-5,"minExtent":0,"maxExtent":0}},
"x2":{"datum":50},
"y":{"field":"t","type":"quantitative","axis":{"orient":"right","values":[-0.2,0,0.2,0.4,0.6,0.8,1],"labels":false,"title":null,"grid":false,"domain":false,"tickSize":-5,"minExtent":0,"maxExtent":0}}
}
}
],
"resolve":{"axis":{"x":"independent","y":"independent"}}
},
{
"width":522,"height":412,
"title":{"text":"HOBE"},
"layer":[
{
"data":{"name":"hobe_n"},
"transform":[{"fold":["SMOS","ASCAT","AMSR2"],"as":["s","v"]}],
"mark":{"type":"line","clip":true},
"encoding":{
"x":{"field":"x","type":"quantitative","scale":{"domain":[0,200],"nice":false},"axis":{"orient":"bottom","values":[0,50,100,150,200],"format":"d","title":"Time lag [days]","titleX":261,"titleY":51,"titleBaseline":"alphabetic","titleAlign":"center","labelPadding":12,"tickSize":-5,"grid":true}},
"y":{"field":"v","type":"quantitative","scale":{"domain":[-0.2,1],"nice":false},"axis":{"orient":"left","values":[-0.2,0,0.2,0.4,0.6,0.8,1],"format":"~g","labelExpr":"replace(datum.label,'−','-')","title":"Autocorrelation","titleX":-56,"titleY":206,"titleAngle":-90,"titleBaseline":"middle","titleAlign":"center","labelPadding":9,"tickSize":-5,"grid":true}},
"color":{"field":"s","type":"nominal","scale":{"domain":["insitu","SMOS","ASCAT","AMSR2","SMOS-recGP","ASCAT-recGP","AMSR2-recGP","MERRA2","GLDAS1"],"range":["#000000","#ff00ff","#ffff00","#999999","#0000ff","#00ffff","#ff9900","#ff0000","#00ff00"]},"legend":{"encode":{"symbols":{"update":{"strokeWidth":{"signal":"indexof(['insitu','MERRA2','GLDAS1'], datum.value) >= 0 ? 3.5 : 1.8"}}}}}},
"strokeWidth":{"value":1.8}
}
},
{
"data":{"name":"hobe_s"},
"transform":[{"fold":["insitu","SMOS-recGP","ASCAT-recGP","AMSR2-recGP","MERRA2","GLDAS1"],"as":["s","v"]}],
"mark":{"type":"line","clip":true},
"encoding":{
"x":{"field":"x","type":"quantitative","axis":null},
"y":{"field":"v","type":"quantitative","axis":null},
"color":{"field":"s","type":"nominal"},
"strokeWidth":{"condition":{"test":"datum.s === 'insitu' || datum.s === 'MERRA2' || datum.s === 'GLDAS1'","value":3.5},"value":1.8}
}
},
{
"data":{"values":[{"t":0.368}]},
"mark":{"type":"rule","strokeDash":[8,5],"strokeWidth":2,"color":"#000000"},
"encoding":{
"x":{"datum":0,"type":"quantitative","axis":{"orient":"top","values":[0,50,100,150,200],"labels":false,"title":null,"grid":false,"domain":false,"tickSize":-5,"minExtent":0,"maxExtent":0}},
"x2":{"datum":200},
"y":{"field":"t","type":"quantitative","axis":{"orient":"right","values":[-0.2,0,0.2,0.4,0.6,0.8,1],"labels":false,"title":null,"grid":false,"domain":false,"tickSize":-5,"minExtent":0,"maxExtent":0}}
}
}
],
"resolve":{"axis":{"x":"independent","y":"independent"}}
}
],
"resolve":{"scale":{"color":"independent"},"legend":{"color":"independent"}}
}
